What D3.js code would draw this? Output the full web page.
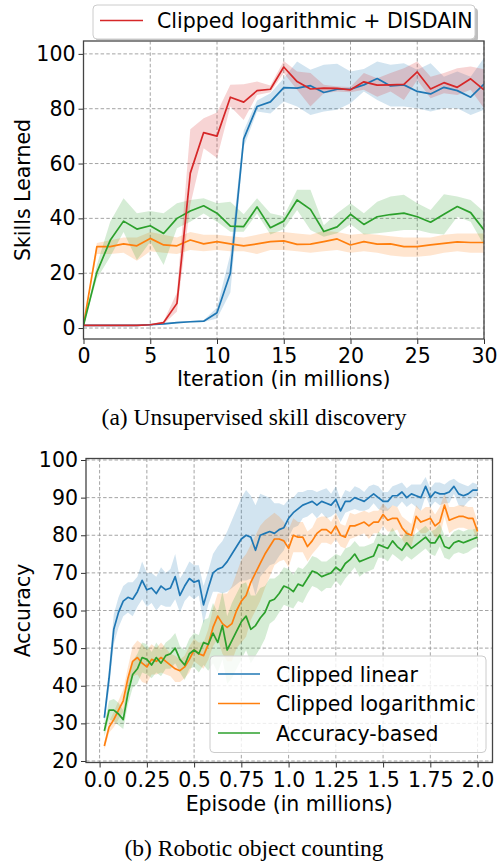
<!DOCTYPE html>
<html>
<head>
<meta charset="utf-8">
<script src="https://cdn.jsdelivr.net/npm/d3@7"></script>
<style>
    body { margin: 0; background: #fff; }
    svg { display: block; font-family: "DejaVu Sans", sans-serif; }
    .caption { font-family: "Liberation Serif", "Times New Roman", serif; }
</style>
</head>
<body>
<div id="chart"></div>
<script>
// ---- (a) Unsupervised skill discovery ----
const iterations = d3.range(0, 31);

const linearSkills = [1, 1, 1, 1, 1, 1.2, 1.5, 2, 2.3, 2.5, 5.6, 20, 69, 80.8, 82.5, 87.7, 87.5, 88.4, 85.9, 87.1, 87.1, 88.7, 91, 88.3, 88.7, 86.3, 85.4, 87.8, 86.6, 84.2, 89];
const linearSkillsLo = [1, 1, 1, 1, 1, 1, 1.2, 1.7, 2, 2.2, 3.5, 13, 66, 79, 78.3, 82.6, 80.8, 77.7, 79, 79.6, 82, 86.3, 83.2, 80.8, 80.8, 80.2, 79, 80.2, 80.2, 77.7, 79.6];
const linearSkillsHi = [1, 1, 1, 1, 1, 1.4, 1.8, 2.3, 2.6, 2.8, 7.5, 27, 72, 83, 85.6, 91.1, 97.2, 94.2, 96, 96.4, 93.6, 94.5, 97.2, 96, 96.6, 94.2, 96.6, 91.7, 93.6, 91.7, 98.5];

const logSkills = [1, 29.7, 29.7, 30.7, 30, 32.7, 30.3, 30, 32.1, 30.7, 31.5, 30.7, 30, 30.7, 31.5, 31.8, 30.5, 30.6, 31.5, 32.5, 30.3, 31.5, 30.6, 30.7, 29.7, 29.7, 30.3, 30.9, 31.4, 31.2, 31.2];
const logSkillsLo = [1, 27, 27, 27.5, 24.5, 28, 27.5, 27, 28.5, 28, 28.5, 28, 28, 27, 28.5, 28.5, 28, 27.5, 28, 28.5, 27.5, 28, 27.5, 26.5, 26, 26, 26.5, 27.5, 28, 27.5, 27.5];
const logSkillsHi = [1, 31, 32, 33, 33, 35, 34, 33, 35, 34, 34, 33.5, 33, 34, 35, 35, 34.5, 34, 35.5, 35, 34, 34.5, 34, 33.5, 33, 33, 33, 34, 34.5, 34.5, 34.5];

const accSkills = [1, 20.3, 32, 39, 36.1, 37.3, 34.5, 40, 42.7, 44.6, 41.9, 37.2, 37, 44.2, 36.6, 39, 46.7, 43.3, 35.2, 36.9, 41.5, 37.8, 40.6, 41.4, 41.9, 40.6, 38.6, 41.5, 44.3, 42.1, 35.8];
const accSkillsLo = [1, 18, 26, 35, 24.8, 31.5, 23, 36.4, 38.8, 41.8, 38.8, 35.1, 35.1, 41.8, 34.1, 36, 43.1, 35.8, 33.3, 34.6, 37.9, 34.1, 34.6, 35.1, 35.8, 35.8, 34.6, 34.1, 40.6, 38.8, 30.2];
const accSkillsHi = [1, 23, 38.8, 47.3, 41.9, 42.7, 41.9, 45.5, 46.7, 47.3, 45.5, 46.1, 41.5, 47.3, 41.9, 40.8, 50.4, 50.4, 37.5, 41.9, 45.5, 41.9, 46.1, 48, 48.6, 45.5, 43.1, 48.8, 48, 46.7, 42.4];

const disdainSkills = [1, 1, 1, 1, 1, 1.2, 2, 9, 56.5, 71.3, 70, 84.2, 82.4, 86.6, 87.1, 95.2, 89.9, 87.2, 87.5, 87.4, 86.9, 89.8, 88.6, 88.7, 88.9, 93.4, 87.2, 89.5, 87.8, 90.9, 86.9];
const disdainSkillsLo = [1, 1, 1, 1, 1, 1, 1.5, 6, 45, 65.6, 62, 80.8, 75.9, 85, 86, 93, 86.9, 80.8, 85.6, 86.3, 86, 86.9, 84.4, 86.3, 83.2, 90.5, 83.8, 85.6, 85, 86.9, 80.2];
const disdainSkillsHi = [1, 1, 1, 1, 1, 1.4, 2.5, 13, 72.5, 76.5, 78.6, 88.7, 88.9, 89.9, 88.5, 97.4, 93.6, 93, 88.7, 88.1, 87.9, 93, 91.1, 93, 94.8, 97.2, 91.7, 93, 94.8, 95.4, 94.4];

const skillTicksX = [0, 5, 10, 15, 20, 25, 30];
const skillTicksY = [0, 20, 40, 60, 80, 100];

// ---- (b) Robotic object counting ----
const episodes = d3.range(1, 81).map(i => i * 0.025);

const linearAcc = [31.5, 42, 55, 59.5,
    62.5, 63.5, 63, 65, 68, 65.5, 66, 64.5, 66.5, 65.5, 66, 69, 64, 66.5, 68.5, 67.5, 68, 61.5, 66, 70,
    71, 71.5, 73, 75, 77, 79, 80, 79.5, 76, 80, 80.5, 81, 80.5, 81.5, 82, 84.5,
    86, 87, 88, 88.5, 89, 88, 89, 88.5, 88, 89.5, 86.5, 89, 89, 90, 89.5, 89, 90, 91, 90, 89,
    89, 90.5, 90.5, 91.5, 90, 91, 90.5, 90, 93, 90, 91.5, 91, 91, 91.5, 93, 91, 90.5, 91, 92, 92];
const linearSpread = [1.5, 3, 4, 4,
    4, 4, 4.5, 4, 5, 4.5, 4, 4.5, 5, 4.5, 5, 6, 4.5, 4, 4.5, 4.5, 4, 5, 4.5, 5,
    6, 7, 8, 9, 10, 11, 12, 11, 12, 11, 10, 9, 8, 7, 6, 5,
    4, 4.5, 3.5, 3.5, 3, 3.5, 3, 4, 3, 3.5, 3, 3, 2.5, 3, 3, 2.5, 3, 2.5, 3, 2.5,
    2.5, 2.5, 3, 2.5, 2.5, 2.5, 3, 3.5, 2.5, 2.5, 2.5, 3, 2.5, 3, 2, 3, 3, 2, 2, 1.5];

const logAcc = [24, 29, 31, 33.5, 36, 42,
    46.5, 47.5, 46, 45, 47, 46.5, 47.5, 46.5, 45.5, 44.5, 44, 45, 47, 49.5, 48.5, 48,
    51, 55.5, 58.5, 56.5, 55.5, 56.5, 60, 62.5, 64, 67.5, 70, 72.5, 75, 77, 79, 79, 78.5, 76.5,
    80, 79.5, 79.5, 77, 78.5, 80.5, 81.5, 81.5, 80.5, 82.5, 80, 79.5, 82.5, 82.5, 83, 83.5, 82.5, 83.5, 83.5, 85.5,
    84, 84.5, 84.5, 82, 80.5, 80, 85, 83.5, 84, 84.5, 82.5, 83.5, 88, 84, 84.5, 85, 85, 84.5, 84.5, 81];
const logSpread = [1, 1.5, 2, 2.5, 3, 3,
    4, 4.5, 5, 4.5, 4, 3.5, 4, 3.5, 3, 3.5, 3, 3, 3.5, 3, 3, 3.5,
    4, 5, 6, 8, 9, 10, 10, 11, 11, 10, 10, 10, 9, 8, 7, 6, 5, 5,
    4.5, 4, 4, 4, 3.5, 4, 3.5, 3.5, 3, 3.5, 3, 3, 3.5, 3, 3, 3, 3.5, 3, 3, 3,
    3, 3.5, 3, 3, 3.5, 3, 3, 3, 3.5, 3, 3, 4, 3, 3.5, 3, 3, 3, 3, 3, 2.5];

const accAcc = [28, 33.5, 33.5, 32.5, 31, 38,
    43, 44.5, 47.5, 47, 45.5, 47.5, 46, 48, 48.5, 50, 47, 45.5, 48.5, 49.5,
    48.5, 51.5, 51, 54, 51.5, 56, 49.5, 52, 54.5, 57, 58.5, 55, 56, 58, 59.5, 62.5,
    63, 64.5, 66.5, 66, 65, 67, 66.5, 68.5, 70.5, 70, 69, 69.5, 70, 71.5, 70.5, 72.5, 73.5, 75, 73, 73.5,
    74, 74.5, 77.5, 77, 76.5, 78.5, 77, 76, 78, 76.5, 77.5, 78.5, 79.5, 78, 78, 80, 77, 76.5, 78, 78.5,
    78, 78.5, 79, 79.5];
const accSpread = [1.5, 2.5, 3, 3, 2.5, 3,
    3.5, 4, 4, 4, 3.5, 4, 3.5, 3.5, 4, 4, 3.5, 4, 4, 4.5,
    5, 6, 7, 8, 8, 9, 9, 10, 10, 10, 9, 9, 8, 8, 7, 6,
    5.5, 5, 5, 5, 4.5, 4.5, 4.5, 4, 4, 4, 4, 3.5, 4, 3.5, 4, 4, 3.5, 3.5, 4, 3.5,
    3.5, 3.5, 3.5, 3, 3.5, 3.5, 3, 3, 3.5, 3, 3, 3, 3, 3, 3.5, 3, 3, 3, 3, 3,
    3, 3, 2.5, 2.5];

const episodeTicks = [0, 0.25, 0.5, 0.75, 1.0, 1.25, 1.5, 1.75, 2.0];
const episodeTickLabels = ["0.0", "0.25", "0.5", "0.75", "1.0", "1.25", "1.5", "1.75", "2.0"];
const accuracyTicks = [20, 30, 40, 50, 60, 70, 80, 90, 100];

const BLUE = "#1f77b4", ORANGE = "#ff7f0e", GREEN = "#2ca02c", RED = "#d62728";
const FONT = "20.5px";

const width = 497, height = 864;
const svg = d3.select("#chart").append("svg")
    .attr("width", width)
    .attr("height", height);

function drawPanel(opts) {
    const x = d3.scaleLinear().domain(opts.xDomain).range([opts.left, opts.right]);
    const y = d3.scaleLinear().domain(opts.yDomain).range([opts.bottom, opts.top]);
    const g = svg.append("g");

    // dashed grid first, under everything
    const grid = g.append("g").attr("stroke", "#9a9a9a").attr("stroke-width", 0.9)
        .attr("stroke-dasharray", "3.5,2.2");
    grid.selectAll(".gx").data(opts.xTicks).join("line")
        .attr("x1", d => x(d)).attr("x2", d => x(d))
        .attr("y1", opts.top).attr("y2", opts.bottom);
    grid.selectAll(".gy").data(opts.yTicks).join("line")
        .attr("x1", opts.left).attr("x2", opts.right)
        .attr("y1", d => y(d)).attr("y2", d => y(d));

    const clipId = "clip-" + opts.name;
    g.append("clipPath").attr("id", clipId).append("rect")
        .attr("x", opts.left).attr("y", opts.top)
        .attr("width", opts.right - opts.left).attr("height", opts.bottom - opts.top);

    const plot = g.append("g").attr("clip-path", `url(#${clipId})`);
    opts.series.forEach(s => {
        const pts = s.xs.map((xv, i) => ({ x: xv, v: s.mean[i], lo: s.lo[i], hi: s.hi[i] }));
        plot.append("path")
            .datum(pts)
            .attr("fill", s.color)
            .attr("fill-opacity", 0.2)
            .attr("d", d3.area().x(d => x(d.x)).y0(d => y(d.lo)).y1(d => y(d.hi)));
    });
    opts.series.forEach(s => {
        const pts = s.xs.map((xv, i) => ({ x: xv, v: s.mean[i] }));
        plot.append("path")
            .datum(pts)
            .attr("fill", "none")
            .attr("stroke", s.color)
            .attr("stroke-width", 1.7)
            .attr("stroke-linejoin", "round")
            .attr("d", d3.line().x(d => x(d.x)).y(d => y(d.v)));
    });

    // axes
    const xAxis = d3.axisBottom(x).tickValues(opts.xTicks).tickSize(5).tickPadding(4.5)
        .tickFormat((d, i) => opts.xLabels ? opts.xLabels[i] : d3.format("d")(d));
    const yAxis = d3.axisLeft(y).tickValues(opts.yTicks).tickSize(5).tickPadding(3)
        .tickFormat(d3.format("d"));

    const ax = g.append("g").attr("transform", `translate(0,${opts.bottom})`).call(xAxis);
    const ay = g.append("g").attr("transform", `translate(${opts.left},0)`).call(yAxis);
    [ax, ay].forEach(a => {
        a.select(".domain").remove();
        a.selectAll("line").attr("stroke", "#333").attr("stroke-width", 1);
        a.selectAll("text").attr("fill", "#000").style("font-size", FONT)
            .style("font-family", "DejaVu Sans, sans-serif");
    });

    // frame
    g.append("rect")
        .attr("x", opts.left).attr("y", opts.top)
        .attr("width", opts.right - opts.left).attr("height", opts.bottom - opts.top)
        .attr("fill", "none").attr("stroke", "#444").attr("stroke-width", 1.3);

    g.append("text")
        .attr("x", (opts.left + opts.right) / 2).attr("y", opts.xLabelY)
        .attr("text-anchor", "middle").style("font-size", FONT)
        .text(opts.xTitle);
    g.append("text")
        .attr("transform", `translate(${opts.yLabelX},${(opts.top + opts.bottom) / 2}) rotate(-90)`)
        .attr("text-anchor", "middle").style("font-size", FONT)
        .text(opts.yTitle);

    return { x, y, g };
}

drawPanel({
    name: "skills",
    left: 83.5, right: 484, top: 41, bottom: 339,
    xDomain: [0, 30], yDomain: [-4, 104.7],
    xTicks: skillTicksX, yTicks: skillTicksY,
    xTitle: "Iteration (in millions)", xLabelY: 386,
    yTitle: "Skills Learned", yLabelX: 29.5,
    series: [
        { xs: iterations, mean: linearSkills, lo: linearSkillsLo, hi: linearSkillsHi, color: BLUE },
        { xs: iterations, mean: logSkills, lo: logSkillsLo, hi: logSkillsHi, color: ORANGE },
        { xs: iterations, mean: accSkills, lo: accSkillsLo, hi: accSkillsHi, color: GREEN },
        { xs: iterations, mean: disdainSkills, lo: disdainSkillsLo, hi: disdainSkillsHi, color: RED }
    ]
});

const band = (mean, spread) => ({ lo: mean.map((m, i) => m - spread[i]), hi: mean.map((m, i) => m + spread[i]) });

drawPanel({
    name: "counting",
    left: 86, right: 492.5, top: 458.5, bottom: 762.5,
    xDomain: [-0.072, 2.079], yDomain: [19.6, 100.4],
    xTicks: episodeTicks, xLabels: episodeTickLabels, yTicks: accuracyTicks,
    xTitle: "Episode (in millions)", xLabelY: 811,
    yTitle: "Accuracy", yLabelX: 29.5,
    series: [
        Object.assign({ xs: episodes, mean: linearAcc, color: BLUE }, band(linearAcc, linearSpread)),
        Object.assign({ xs: episodes, mean: logAcc, color: ORANGE }, band(logAcc, logSpread)),
        Object.assign({ xs: episodes, mean: accAcc, color: GREEN }, band(accAcc, accSpread))
    ]
});

// legend on top of panel (a), with a drop shadow
const legA = svg.append("g");
legA.append("rect")
    .attr("x", 96).attr("y", 8).attr("width", 382).attr("height", 34).attr("rx", 4)
    .attr("fill", "#888").attr("fill-opacity", 0.55);
legA.append("rect")
    .attr("x", 93).attr("y", 5).attr("width", 382).attr("height", 34).attr("rx", 4)
    .attr("fill", "#fff").attr("stroke", "#ccc");
legA.append("line")
    .attr("x1", 100).attr("x2", 143).attr("y1", 20.5).attr("y2", 20.5)
    .attr("stroke", RED).attr("stroke-width", 1.7);
legA.append("text")
    .attr("x", 157).attr("y", 28).style("font-size", FONT)
    .text("Clipped logarithmic + DISDAIN");

// legend of panel (b)
const legendB = [
    { label: "Clipped linear", color: BLUE },
    { label: "Clipped logarithmic", color: ORANGE },
    { label: "Accuracy-based", color: GREEN }
];
const legB = svg.append("g");
legB.append("rect")
    .attr("x", 210).attr("y", 656).attr("width", 276).attr("height", 96.5).attr("rx", 4)
    .attr("fill", "#fff").attr("fill-opacity", 0.8).attr("stroke", "#ccc");
legB.selectAll("g.item").data(legendB).join("g")
    .attr("transform", (d, i) => `translate(0,${674 + i * 29.5})`)
    .each(function (d) {
        const it = d3.select(this);
        it.append("line").attr("x1", 218).attr("x2", 260).attr("y1", 0).attr("y2", 0)
            .attr("stroke", d.color).attr("stroke-width", 1.7);
        it.append("text").attr("x", 276).attr("y", 7.5).style("font-size", FONT).text(d.label);
    });

// subfigure captions
svg.append("text").attr("class", "caption")
    .attr("x", 254).attr("y", 425).attr("text-anchor", "middle").style("font-size", "23.5px")
    .text("(a) Unsupervised skill discovery");
svg.append("text").attr("class", "caption")
    .attr("x", 254).attr("y", 856).attr("text-anchor", "middle").style("font-size", "23.5px")
    .text("(b) Robotic object counting");
</script>
</body>
</html>
